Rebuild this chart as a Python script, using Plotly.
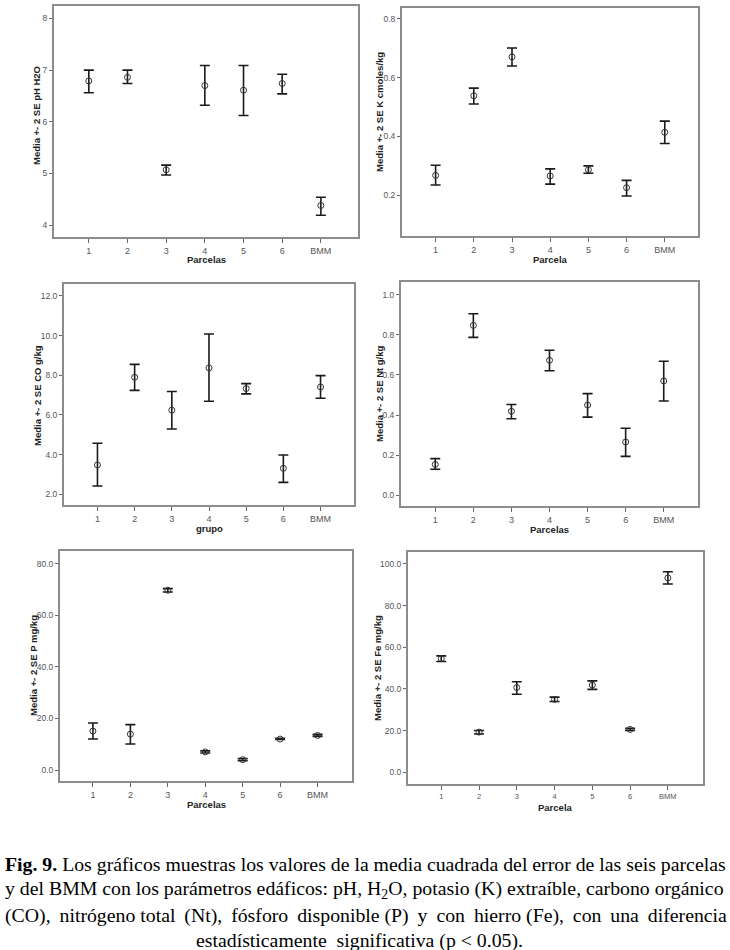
import plotly.graph_objects as go

W, H = 730, 950

parcelas = ["1", "2", "3", "4", "5", "6", "BMM"]

# medias y limites (+- 2 SE)
ph_media = [6.79, 6.86, 5.07, 6.70, 6.61, 6.74, 4.38]
ph_sup = [7.00, 7.00, 5.16, 7.09, 7.09, 6.92, 4.54]
ph_inf = [6.56, 6.74, 4.97, 6.32, 6.12, 6.54, 4.19]

k_media = [0.268, 0.538, 0.670, 0.266, 0.287, 0.226, 0.414]
k_sup = [0.302, 0.564, 0.700, 0.290, 0.300, 0.251, 0.452]
k_inf = [0.235, 0.510, 0.639, 0.238, 0.275, 0.198, 0.376]

co_media = [3.48, 7.90, 6.24, 8.37, 7.33, 3.31, 7.41]
co_sup = [4.57, 8.55, 7.18, 10.08, 7.58, 3.98, 7.98]
co_inf = [2.42, 7.24, 5.29, 6.69, 7.06, 2.60, 6.84]

nt_media = [0.154, 0.847, 0.419, 0.673, 0.450, 0.266, 0.570]
nt_sup = [0.183, 0.905, 0.453, 0.723, 0.507, 0.334, 0.668]
nt_inf = [0.130, 0.787, 0.382, 0.621, 0.390, 0.194, 0.470]

p_media = [15.1, 13.9, 69.7, 7.0, 4.0, 12.0, 13.4]
p_sup = [18.2, 17.6, 70.3, 7.4, 4.4, 12.3, 13.8]
p_inf = [12.0, 10.1, 69.0, 6.6, 3.6, 11.8, 13.05]

fe_media = [54.6, 19.3, 40.7, 35.0, 41.9, 20.6, 93.3]
fe_sup = [55.9, 20.1, 43.5, 36.1, 43.9, 21.1, 96.3]
fe_inf = [53.2, 18.4, 37.5, 34.0, 39.8, 20.1, 90.4]

# (media, sup, inf, titulo y, titulo x, caja en px [x0,x1,y0,y1], centro del titulo y,
#  rango y, dtick, formato, rango x)
paneles = [
    (ph_media, ph_sup, ph_inf, "Media +- 2 SE pH H2O", "Parcelas",
     [54, 358, 6, 237], (37, 116), [3.77, 8.24], 1, "d", [-0.9, 6.96]),
    (k_media, k_sup, k_inf, "Media +- 2 SE K cmoles/kg", "Parcela",
     [402, 698, 8, 236], (379, 112), [0.062, 0.836], 0.2, ".1f", [-0.88, 6.87]),
    (co_media, co_sup, co_inf, "Media +- 2 SE CO g/kg", "grupo",
     [64, 354, 284, 505], (37, 396), [1.46, 12.6], 2, ".1f", [-0.9, 6.9]),
    (nt_media, nt_sup, nt_inf, "Media +- 2 SE Nt g/kg", "Parcelas",
     [401, 698, 282, 506], (379, 394), [-0.053, 1.063], 0.2, ".1f", [-0.9, 6.9]),
    (p_media, p_sup, p_inf, "Media +- 2 SE P mg/kg", "Parcelas",
     [60, 352, 551, 781], (33, 666), [-4.26, 84.9], 20, ".1f", [-0.88, 6.92]),
    (fe_media, fe_sup, fe_inf, "Media +- 2 SE Fe mg/kg", "Parcela",
     [408, 703, 552, 784], (377, 668), [-5.6, 105.75], 20, ".1f", [-0.88, 6.93]),
]

fig = go.Figure()
annotations = []

for i, (media, sup, inf, ytit, xtit, box, ypos, yr, dt, fmt, xr) in enumerate(paneles):
    n = "" if i == 0 else str(i + 1)
    x0, x1, y0, y1 = box
    fig.add_trace(go.Scatter(
        x=parcelas, y=media, mode="markers",
        xaxis="x" + n, yaxis="y" + n,
        marker=dict(symbol="circle-open", size=6, color="#333333", line=dict(width=1)),
        error_y=dict(type="data", symmetric=False,
                     array=[s - m for s, m in zip(sup, media)],
                     arrayminus=[m - f for m, f in zip(media, inf)],
                     color="#1a1a1a", thickness=1.6, width=5),
        showlegend=False,
    ))
    tick_font = dict(family="Arial", size=9 if i < 5 else 7.5, color="#555555")
    fig.update_layout(**{
        "xaxis" + n: dict(
            domain=[x0 / W, x1 / W], anchor="y" + n, type="category",
            range=xr, showline=True, mirror=True, linecolor="#8c8c8c", linewidth=2,
            ticks="outside", ticklen=4, tickcolor="#666666", showgrid=False,
            zeroline=False, tickfont=tick_font,
        ),
        "yaxis" + n: dict(
            domain=[1 - y1 / H, 1 - y0 / H], anchor="x" + n,
            range=yr, tick0=0, dtick=dt, tickformat=fmt,
            showline=True, mirror=True, linecolor="#8c8c8c", linewidth=2,
            ticks="outside", ticklen=3, tickcolor="#666666", showgrid=False,
            zeroline=False, tickfont=dict(family="Arial", size=8.5, color="#555555"),
        ),
    })
    annotations.append(dict(
        text="<b>" + ytit + "</b>", xref="paper", yref="paper",
        x=ypos[0] / W, y=1 - ypos[1] / H, textangle=-90,
        xanchor="center", yanchor="middle", showarrow=False,
        font=dict(family="Arial", size=9.5, color="#222222"),
    ))
    annotations.append(dict(
        text="<b>" + xtit + "</b>", xref="paper", yref="paper",
        x=(x0 + x1) / 2 / W, y=1 - (y1 + 23) / H,
        xanchor="center", yanchor="middle", showarrow=False,
        font=dict(family="Arial", size=9.5, color="#222222"),
    ))

ts = " \u2009"
caption = [
    "<b>Fig. 9.</b> Los gráficos muestras los valores de la media cuadrada del error de las seis parcelas",
    "y del BMM con los parámetros edáficos: pH, H<sub>2</sub>O, potasio (K) extraíble, carbono orgánico",
    "(CO)," + ts + "nitrógeno total" + ts + "(Nt)," + ts + "fósforo" + ts + "disponible (P)" + ts
    + "y" + ts + "con" + ts + "hierro (Fe)," + ts + "con" + ts + "una" + ts + "diferencia",
    "estadísticamente  significativa (p < 0.05).",
]
cap_y = [864, 889.5, 915, 940]
for j, (line, yy) in enumerate(zip(caption, cap_y)):
    last = j == len(caption) - 1
    annotations.append(dict(
        text=line, xref="paper", yref="paper",
        x=0.493 if last else 4 / W, y=1 - yy / H,
        xanchor="center" if last else "left", yanchor="middle", showarrow=False,
        borderpad=0,
        font=dict(family="Liberation Serif", size=19.8, color="#000000"),
    ))

fig.update_layout(
    width=W, height=H, margin=dict(l=0, r=0, t=0, b=0),
    paper_bgcolor="white", plot_bgcolor="white",
    annotations=annotations,
)

fig.write_html("out.html", config={"displayModeBar": False},
               post_script="document.body.style.margin = '0px';")
